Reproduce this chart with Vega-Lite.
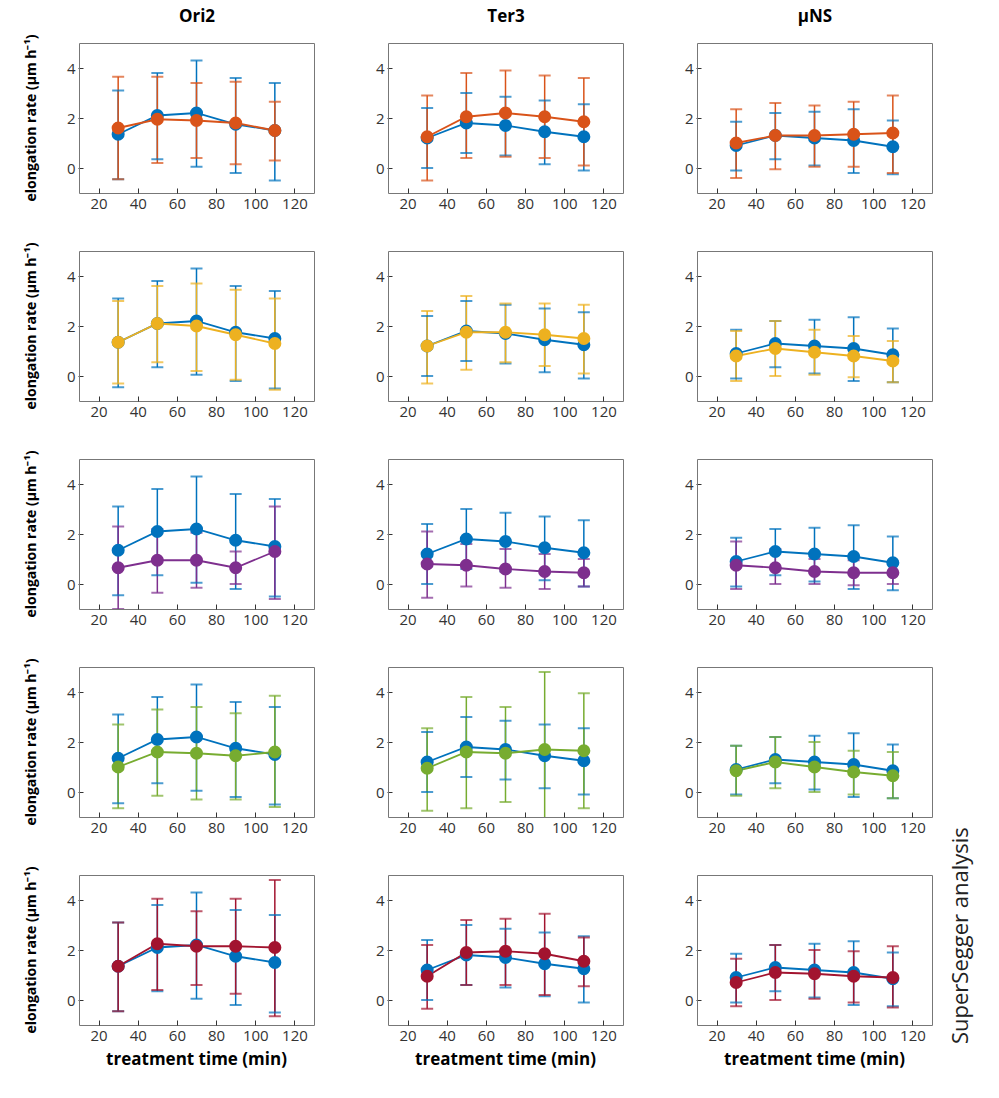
{
"$schema":"https://vega.github.io/schema/vega-lite/v6.json",
"background":"white",
"padding":{"left":25,"top":8,"right":2,"bottom":5},
"config":{"font":"Open Sans","view":{"stroke":"#777","strokeWidth":1},
"axis":{"grid":false,"domain":false,"ticks":true,"tickColor":"#333","tickSize":-5,"labelFontSize":15,"labelColor":"#333","labelFont":"Open Sans","labelPadding":8}},
"datasets":{"d":[
{"r":1,"c":"Ori2","s":"control","x":30,"y":1.35,"lo":-0.45,"hi":3.1},
{"r":1,"c":"Ori2","s":"control","x":50,"y":2.1,"lo":0.35,"hi":3.8},
{"r":1,"c":"Ori2","s":"control","x":70,"y":2.2,"lo":0.05,"hi":4.3},
{"r":1,"c":"Ori2","s":"control","x":90,"y":1.75,"lo":-0.2,"hi":3.6},
{"r":1,"c":"Ori2","s":"control","x":110,"y":1.5,"lo":-0.5,"hi":3.4},
{"r":2,"c":"Ori2","s":"control","x":30,"y":1.35,"lo":-0.45,"hi":3.1},
{"r":2,"c":"Ori2","s":"control","x":50,"y":2.1,"lo":0.35,"hi":3.8},
{"r":2,"c":"Ori2","s":"control","x":70,"y":2.2,"lo":0.05,"hi":4.3},
{"r":2,"c":"Ori2","s":"control","x":90,"y":1.75,"lo":-0.2,"hi":3.6},
{"r":2,"c":"Ori2","s":"control","x":110,"y":1.5,"lo":-0.5,"hi":3.4},
{"r":3,"c":"Ori2","s":"control","x":30,"y":1.35,"lo":-0.45,"hi":3.1},
{"r":3,"c":"Ori2","s":"control","x":50,"y":2.1,"lo":0.35,"hi":3.8},
{"r":3,"c":"Ori2","s":"control","x":70,"y":2.2,"lo":0.05,"hi":4.3},
{"r":3,"c":"Ori2","s":"control","x":90,"y":1.75,"lo":-0.2,"hi":3.6},
{"r":3,"c":"Ori2","s":"control","x":110,"y":1.5,"lo":-0.5,"hi":3.4},
{"r":4,"c":"Ori2","s":"control","x":30,"y":1.35,"lo":-0.45,"hi":3.1},
{"r":4,"c":"Ori2","s":"control","x":50,"y":2.1,"lo":0.35,"hi":3.8},
{"r":4,"c":"Ori2","s":"control","x":70,"y":2.2,"lo":0.05,"hi":4.3},
{"r":4,"c":"Ori2","s":"control","x":90,"y":1.75,"lo":-0.2,"hi":3.6},
{"r":4,"c":"Ori2","s":"control","x":110,"y":1.5,"lo":-0.5,"hi":3.4},
{"r":5,"c":"Ori2","s":"control","x":30,"y":1.35,"lo":-0.45,"hi":3.1},
{"r":5,"c":"Ori2","s":"control","x":50,"y":2.1,"lo":0.35,"hi":3.8},
{"r":5,"c":"Ori2","s":"control","x":70,"y":2.2,"lo":0.05,"hi":4.3},
{"r":5,"c":"Ori2","s":"control","x":90,"y":1.75,"lo":-0.2,"hi":3.6},
{"r":5,"c":"Ori2","s":"control","x":110,"y":1.5,"lo":-0.5,"hi":3.4},
{"r":1,"c":"Ter3","s":"control","x":30,"y":1.2,"lo":0.0,"hi":2.4},
{"r":1,"c":"Ter3","s":"control","x":50,"y":1.8,"lo":0.6,"hi":3.0},
{"r":1,"c":"Ter3","s":"control","x":70,"y":1.7,"lo":0.5,"hi":2.85},
{"r":1,"c":"Ter3","s":"control","x":90,"y":1.45,"lo":0.15,"hi":2.7},
{"r":1,"c":"Ter3","s":"control","x":110,"y":1.25,"lo":-0.1,"hi":2.55},
{"r":2,"c":"Ter3","s":"control","x":30,"y":1.2,"lo":0.0,"hi":2.4},
{"r":2,"c":"Ter3","s":"control","x":50,"y":1.8,"lo":0.6,"hi":3.0},
{"r":2,"c":"Ter3","s":"control","x":70,"y":1.7,"lo":0.5,"hi":2.85},
{"r":2,"c":"Ter3","s":"control","x":90,"y":1.45,"lo":0.15,"hi":2.7},
{"r":2,"c":"Ter3","s":"control","x":110,"y":1.25,"lo":-0.1,"hi":2.55},
{"r":3,"c":"Ter3","s":"control","x":30,"y":1.2,"lo":0.0,"hi":2.4},
{"r":3,"c":"Ter3","s":"control","x":50,"y":1.8,"lo":0.6,"hi":3.0},
{"r":3,"c":"Ter3","s":"control","x":70,"y":1.7,"lo":0.5,"hi":2.85},
{"r":3,"c":"Ter3","s":"control","x":90,"y":1.45,"lo":0.15,"hi":2.7},
{"r":3,"c":"Ter3","s":"control","x":110,"y":1.25,"lo":-0.1,"hi":2.55},
{"r":4,"c":"Ter3","s":"control","x":30,"y":1.2,"lo":0.0,"hi":2.4},
{"r":4,"c":"Ter3","s":"control","x":50,"y":1.8,"lo":0.6,"hi":3.0},
{"r":4,"c":"Ter3","s":"control","x":70,"y":1.7,"lo":0.5,"hi":2.85},
{"r":4,"c":"Ter3","s":"control","x":90,"y":1.45,"lo":0.15,"hi":2.7},
{"r":4,"c":"Ter3","s":"control","x":110,"y":1.25,"lo":-0.1,"hi":2.55},
{"r":5,"c":"Ter3","s":"control","x":30,"y":1.2,"lo":0.0,"hi":2.4},
{"r":5,"c":"Ter3","s":"control","x":50,"y":1.8,"lo":0.6,"hi":3.0},
{"r":5,"c":"Ter3","s":"control","x":70,"y":1.7,"lo":0.5,"hi":2.85},
{"r":5,"c":"Ter3","s":"control","x":90,"y":1.45,"lo":0.15,"hi":2.7},
{"r":5,"c":"Ter3","s":"control","x":110,"y":1.25,"lo":-0.1,"hi":2.55},
{"r":1,"c":"μNS","s":"control","x":30,"y":0.9,"lo":-0.1,"hi":1.85},
{"r":1,"c":"μNS","s":"control","x":50,"y":1.3,"lo":0.35,"hi":2.2},
{"r":1,"c":"μNS","s":"control","x":70,"y":1.2,"lo":0.1,"hi":2.25},
{"r":1,"c":"μNS","s":"control","x":90,"y":1.1,"lo":-0.2,"hi":2.35},
{"r":1,"c":"μNS","s":"control","x":110,"y":0.85,"lo":-0.25,"hi":1.9},
{"r":2,"c":"μNS","s":"control","x":30,"y":0.9,"lo":-0.1,"hi":1.85},
{"r":2,"c":"μNS","s":"control","x":50,"y":1.3,"lo":0.35,"hi":2.2},
{"r":2,"c":"μNS","s":"control","x":70,"y":1.2,"lo":0.1,"hi":2.25},
{"r":2,"c":"μNS","s":"control","x":90,"y":1.1,"lo":-0.2,"hi":2.35},
{"r":2,"c":"μNS","s":"control","x":110,"y":0.85,"lo":-0.25,"hi":1.9},
{"r":3,"c":"μNS","s":"control","x":30,"y":0.9,"lo":-0.1,"hi":1.85},
{"r":3,"c":"μNS","s":"control","x":50,"y":1.3,"lo":0.35,"hi":2.2},
{"r":3,"c":"μNS","s":"control","x":70,"y":1.2,"lo":0.1,"hi":2.25},
{"r":3,"c":"μNS","s":"control","x":90,"y":1.1,"lo":-0.2,"hi":2.35},
{"r":3,"c":"μNS","s":"control","x":110,"y":0.85,"lo":-0.25,"hi":1.9},
{"r":4,"c":"μNS","s":"control","x":30,"y":0.9,"lo":-0.1,"hi":1.85},
{"r":4,"c":"μNS","s":"control","x":50,"y":1.3,"lo":0.35,"hi":2.2},
{"r":4,"c":"μNS","s":"control","x":70,"y":1.2,"lo":0.1,"hi":2.25},
{"r":4,"c":"μNS","s":"control","x":90,"y":1.1,"lo":-0.2,"hi":2.35},
{"r":4,"c":"μNS","s":"control","x":110,"y":0.85,"lo":-0.25,"hi":1.9},
{"r":5,"c":"μNS","s":"control","x":30,"y":0.9,"lo":-0.1,"hi":1.85},
{"r":5,"c":"μNS","s":"control","x":50,"y":1.3,"lo":0.35,"hi":2.2},
{"r":5,"c":"μNS","s":"control","x":70,"y":1.2,"lo":0.1,"hi":2.25},
{"r":5,"c":"μNS","s":"control","x":90,"y":1.1,"lo":-0.2,"hi":2.35},
{"r":5,"c":"μNS","s":"control","x":110,"y":0.85,"lo":-0.25,"hi":1.9},
{"r":1,"c":"Ori2","s":"c1","x":30,"y":1.6,"lo":-0.45,"hi":3.65},
{"r":1,"c":"Ori2","s":"c1","x":50,"y":1.95,"lo":0.2,"hi":3.65},
{"r":1,"c":"Ori2","s":"c1","x":70,"y":1.9,"lo":0.4,"hi":3.4},
{"r":1,"c":"Ori2","s":"c1","x":90,"y":1.8,"lo":0.15,"hi":3.45},
{"r":1,"c":"Ori2","s":"c1","x":110,"y":1.5,"lo":0.3,"hi":2.65},
{"r":1,"c":"Ter3","s":"c1","x":30,"y":1.25,"lo":-0.5,"hi":2.9},
{"r":1,"c":"Ter3","s":"c1","x":50,"y":2.05,"lo":0.4,"hi":3.8},
{"r":1,"c":"Ter3","s":"c1","x":70,"y":2.2,"lo":0.45,"hi":3.9},
{"r":1,"c":"Ter3","s":"c1","x":90,"y":2.05,"lo":0.4,"hi":3.7},
{"r":1,"c":"Ter3","s":"c1","x":110,"y":1.85,"lo":0.1,"hi":3.6},
{"r":1,"c":"μNS","s":"c1","x":30,"y":1.0,"lo":-0.4,"hi":2.35},
{"r":1,"c":"μNS","s":"c1","x":50,"y":1.3,"lo":-0.05,"hi":2.6},
{"r":1,"c":"μNS","s":"c1","x":70,"y":1.3,"lo":0.05,"hi":2.5},
{"r":1,"c":"μNS","s":"c1","x":90,"y":1.35,"lo":0.05,"hi":2.65},
{"r":1,"c":"μNS","s":"c1","x":110,"y":1.4,"lo":-0.2,"hi":2.9},
{"r":2,"c":"Ori2","s":"c2","x":30,"y":1.35,"lo":-0.3,"hi":3.0},
{"r":2,"c":"Ori2","s":"c2","x":50,"y":2.1,"lo":0.55,"hi":3.6},
{"r":2,"c":"Ori2","s":"c2","x":70,"y":2.0,"lo":0.2,"hi":3.7},
{"r":2,"c":"Ori2","s":"c2","x":90,"y":1.65,"lo":-0.15,"hi":3.45},
{"r":2,"c":"Ori2","s":"c2","x":110,"y":1.3,"lo":-0.55,"hi":3.1},
{"r":2,"c":"Ter3","s":"c2","x":30,"y":1.2,"lo":-0.3,"hi":2.6},
{"r":2,"c":"Ter3","s":"c2","x":50,"y":1.75,"lo":0.25,"hi":3.2},
{"r":2,"c":"Ter3","s":"c2","x":70,"y":1.75,"lo":0.55,"hi":2.9},
{"r":2,"c":"Ter3","s":"c2","x":90,"y":1.65,"lo":0.4,"hi":2.9},
{"r":2,"c":"Ter3","s":"c2","x":110,"y":1.5,"lo":0.1,"hi":2.85},
{"r":2,"c":"μNS","s":"c2","x":30,"y":0.8,"lo":-0.2,"hi":1.8},
{"r":2,"c":"μNS","s":"c2","x":50,"y":1.1,"lo":0.0,"hi":2.2},
{"r":2,"c":"μNS","s":"c2","x":70,"y":0.95,"lo":0.05,"hi":1.85},
{"r":2,"c":"μNS","s":"c2","x":90,"y":0.8,"lo":-0.05,"hi":1.6},
{"r":2,"c":"μNS","s":"c2","x":110,"y":0.6,"lo":-0.25,"hi":1.4},
{"r":3,"c":"Ori2","s":"c3","x":30,"y":0.65,"lo":-1.0,"hi":2.3},
{"r":3,"c":"Ori2","s":"c3","x":50,"y":0.95,"lo":-0.35,"hi":2.2},
{"r":3,"c":"Ori2","s":"c3","x":70,"y":0.95,"lo":-0.15,"hi":2.05},
{"r":3,"c":"Ori2","s":"c3","x":90,"y":0.65,"lo":0.0,"hi":1.3},
{"r":3,"c":"Ori2","s":"c3","x":110,"y":1.3,"lo":-0.6,"hi":3.1},
{"r":3,"c":"Ter3","s":"c3","x":30,"y":0.8,"lo":-0.55,"hi":2.1},
{"r":3,"c":"Ter3","s":"c3","x":50,"y":0.75,"lo":-0.1,"hi":1.6},
{"r":3,"c":"Ter3","s":"c3","x":70,"y":0.6,"lo":-0.15,"hi":1.4},
{"r":3,"c":"Ter3","s":"c3","x":90,"y":0.5,"lo":-0.2,"hi":1.2},
{"r":3,"c":"Ter3","s":"c3","x":110,"y":0.45,"lo":-0.1,"hi":1.0},
{"r":3,"c":"μNS","s":"c3","x":30,"y":0.75,"lo":-0.2,"hi":1.7},
{"r":3,"c":"μNS","s":"c3","x":50,"y":0.65,"lo":0.0,"hi":1.4},
{"r":3,"c":"μNS","s":"c3","x":70,"y":0.5,"lo":0.0,"hi":1.0},
{"r":3,"c":"μNS","s":"c3","x":90,"y":0.45,"lo":-0.05,"hi":0.95},
{"r":3,"c":"μNS","s":"c3","x":110,"y":0.45,"lo":0.0,"hi":0.9},
{"r":4,"c":"Ori2","s":"c4","x":30,"y":1.0,"lo":-0.65,"hi":2.7},
{"r":4,"c":"Ori2","s":"c4","x":50,"y":1.6,"lo":-0.15,"hi":3.3},
{"r":4,"c":"Ori2","s":"c4","x":70,"y":1.55,"lo":-0.3,"hi":3.4},
{"r":4,"c":"Ori2","s":"c4","x":90,"y":1.45,"lo":-0.3,"hi":3.15},
{"r":4,"c":"Ori2","s":"c4","x":110,"y":1.6,"lo":-0.6,"hi":3.85},
{"r":4,"c":"Ter3","s":"c4","x":30,"y":0.95,"lo":-0.75,"hi":2.55},
{"r":4,"c":"Ter3","s":"c4","x":50,"y":1.6,"lo":-0.65,"hi":3.8},
{"r":4,"c":"Ter3","s":"c4","x":70,"y":1.55,"lo":-0.4,"hi":3.4},
{"r":4,"c":"Ter3","s":"c4","x":90,"y":1.7,"lo":-1.4,"hi":4.8},
{"r":4,"c":"Ter3","s":"c4","x":110,"y":1.65,"lo":-0.65,"hi":3.95},
{"r":4,"c":"μNS","s":"c4","x":30,"y":0.85,"lo":-0.15,"hi":1.85},
{"r":4,"c":"μNS","s":"c4","x":50,"y":1.2,"lo":0.15,"hi":2.2},
{"r":4,"c":"μNS","s":"c4","x":70,"y":1.0,"lo":0.0,"hi":2.0},
{"r":4,"c":"μNS","s":"c4","x":90,"y":0.8,"lo":-0.1,"hi":1.65},
{"r":4,"c":"μNS","s":"c4","x":110,"y":0.65,"lo":-0.25,"hi":1.6},
{"r":5,"c":"Ori2","s":"c5","x":30,"y":1.35,"lo":-0.45,"hi":3.1},
{"r":5,"c":"Ori2","s":"c5","x":50,"y":2.25,"lo":0.4,"hi":4.05},
{"r":5,"c":"Ori2","s":"c5","x":70,"y":2.15,"lo":0.6,"hi":3.55},
{"r":5,"c":"Ori2","s":"c5","x":90,"y":2.15,"lo":0.25,"hi":4.05},
{"r":5,"c":"Ori2","s":"c5","x":110,"y":2.1,"lo":-0.65,"hi":4.8},
{"r":5,"c":"Ter3","s":"c5","x":30,"y":0.95,"lo":-0.35,"hi":2.2},
{"r":5,"c":"Ter3","s":"c5","x":50,"y":1.9,"lo":0.6,"hi":3.2},
{"r":5,"c":"Ter3","s":"c5","x":70,"y":1.95,"lo":0.6,"hi":3.25},
{"r":5,"c":"Ter3","s":"c5","x":90,"y":1.85,"lo":0.2,"hi":3.45},
{"r":5,"c":"Ter3","s":"c5","x":110,"y":1.55,"lo":0.55,"hi":2.5},
{"r":5,"c":"μNS","s":"c5","x":30,"y":0.7,"lo":-0.25,"hi":1.65},
{"r":5,"c":"μNS","s":"c5","x":50,"y":1.1,"lo":0.0,"hi":2.2},
{"r":5,"c":"μNS","s":"c5","x":70,"y":1.05,"lo":0.05,"hi":2.0},
{"r":5,"c":"μNS","s":"c5","x":90,"y":0.95,"lo":-0.1,"hi":1.95},
{"r":5,"c":"μNS","s":"c5","x":110,"y":0.9,"lo":-0.3,"hi":2.15}
]},
"spacing":60,
"hconcat":[
{"data":{"name":"d"},"transform":[{"filter":"datum.c==='Ori2'"}],
"facet":{"row":{"field":"r","type":"ordinal","header":{"title":null,"labelExpr":"'elongation rate (μm h⁻¹)'","labelAngle":-90,"labelOrient":"left","labelFontWeight":"bold","labelFontSize":14,"labelFont":"Open Sans","labelPadding":20}},
"column":{"field":"c","type":"nominal","header":{"title":"Ori2","titleOrient":"top","titleFontSize":17,"titleFontWeight":"bold","titleFont":"Open Sans","titlePadding":6,"labelOrient":"bottom","labelExpr":"'treatment time (min)'","labelFontSize":17,"labelFontWeight":"bold","labelFont":"Open Sans","labelPadding":8}}},
"spacing":{"row":38},
"resolve":{"axis":{"x":"independent"}},
"spec":{"width":235,"height":150,"layer":[
{"mark":{"type":"rule","strokeWidth":1.5,"clip":true},"encoding":{"x":{"field":"x","type":"quantitative","scale":{"domain":[10,130],"nice":false},"axis":{"values":[20,40,60,80,100,120],"title":null}},"y":{"field":"lo","type":"quantitative","scale":{"domain":[-1,5],"nice":false},"axis":{"values":[0,2,4],"title":null}},"y2":{"field":"hi"},"color":{"field":"s","type":"nominal","legend":null,"scale":{"domain":["control","c1","c2","c3","c4","c5"],"range":["#0072BD","#D95319","#EDB120","#7E2F8E","#77AC30","#A2142F"]}}}},
{"mark":{"type":"tick","orient":"horizontal","size":12,"thickness":2,"clip":true},"encoding":{"x":{"field":"x","type":"quantitative"},"y":{"field":"lo","type":"quantitative"},"color":{"field":"s","type":"nominal","legend":null}}},
{"mark":{"type":"tick","orient":"horizontal","size":12,"thickness":2,"clip":true},"encoding":{"x":{"field":"x","type":"quantitative"},"y":{"field":"hi","type":"quantitative"},"color":{"field":"s","type":"nominal","legend":null}}},
{"mark":{"type":"line","strokeWidth":1.8},"encoding":{"x":{"field":"x","type":"quantitative"},"y":{"field":"y","type":"quantitative"},"color":{"field":"s","type":"nominal","legend":null}}},
{"mark":{"type":"circle","size":170,"opacity":1},"encoding":{"x":{"field":"x","type":"quantitative"},"y":{"field":"y","type":"quantitative"},"color":{"field":"s","type":"nominal","legend":null}}}
]}},
{"data":{"name":"d"},"transform":[{"filter":"datum.c==='Ter3'"}],
"facet":{"row":{"field":"r","type":"ordinal","header":{"title":null,"labels":false}},
"column":{"field":"c","type":"nominal","header":{"title":"Ter3","titleOrient":"top","titleFontSize":17,"titleFontWeight":"bold","titleFont":"Open Sans","titlePadding":6,"labelOrient":"bottom","labelExpr":"'treatment time (min)'","labelFontSize":17,"labelFontWeight":"bold","labelFont":"Open Sans","labelPadding":8}}},
"spacing":{"row":38},
"resolve":{"axis":{"x":"independent"}},
"spec":{"width":235,"height":150,"layer":[
{"mark":{"type":"rule","strokeWidth":1.5,"clip":true},"encoding":{"x":{"field":"x","type":"quantitative","scale":{"domain":[10,130],"nice":false},"axis":{"values":[20,40,60,80,100,120],"title":null}},"y":{"field":"lo","type":"quantitative","scale":{"domain":[-1,5],"nice":false},"axis":{"values":[0,2,4],"title":null}},"y2":{"field":"hi"},"color":{"field":"s","type":"nominal","legend":null,"scale":{"domain":["control","c1","c2","c3","c4","c5"],"range":["#0072BD","#D95319","#EDB120","#7E2F8E","#77AC30","#A2142F"]}}}},
{"mark":{"type":"tick","orient":"horizontal","size":12,"thickness":2,"clip":true},"encoding":{"x":{"field":"x","type":"quantitative"},"y":{"field":"lo","type":"quantitative"},"color":{"field":"s","type":"nominal","legend":null}}},
{"mark":{"type":"tick","orient":"horizontal","size":12,"thickness":2,"clip":true},"encoding":{"x":{"field":"x","type":"quantitative"},"y":{"field":"hi","type":"quantitative"},"color":{"field":"s","type":"nominal","legend":null}}},
{"mark":{"type":"line","strokeWidth":1.8},"encoding":{"x":{"field":"x","type":"quantitative"},"y":{"field":"y","type":"quantitative"},"color":{"field":"s","type":"nominal","legend":null}}},
{"mark":{"type":"circle","size":170,"opacity":1},"encoding":{"x":{"field":"x","type":"quantitative"},"y":{"field":"y","type":"quantitative"},"color":{"field":"s","type":"nominal","legend":null}}}
]}},
{"data":{"name":"d"},"transform":[{"filter":"datum.c==='μNS'"}],
"facet":{"row":{"field":"r","type":"ordinal","header":{"title":"SuperSegger analysis","titleOrient":"right","titleAngle":-90,"titleAnchor":"start","titleFontSize":22,"titleFontWeight":"normal","titleFont":"Open Sans","titleColor":"#222","titlePadding":8,"labels":false}},
"column":{"field":"c","type":"nominal","header":{"title":"μNS","titleOrient":"top","titleFontSize":17,"titleFontWeight":"bold","titleFont":"Open Sans","titlePadding":6,"labelOrient":"bottom","labelExpr":"'treatment time (min)'","labelFontSize":17,"labelFontWeight":"bold","labelFont":"Open Sans","labelPadding":8}}},
"spacing":{"row":38},
"resolve":{"axis":{"x":"independent"}},
"spec":{"width":235,"height":150,"layer":[
{"mark":{"type":"rule","strokeWidth":1.5,"clip":true},"encoding":{"x":{"field":"x","type":"quantitative","scale":{"domain":[10,130],"nice":false},"axis":{"values":[20,40,60,80,100,120],"title":null}},"y":{"field":"lo","type":"quantitative","scale":{"domain":[-1,5],"nice":false},"axis":{"values":[0,2,4],"title":null}},"y2":{"field":"hi"},"color":{"field":"s","type":"nominal","legend":null,"scale":{"domain":["control","c1","c2","c3","c4","c5"],"range":["#0072BD","#D95319","#EDB120","#7E2F8E","#77AC30","#A2142F"]}}}},
{"mark":{"type":"tick","orient":"horizontal","size":12,"thickness":2,"clip":true},"encoding":{"x":{"field":"x","type":"quantitative"},"y":{"field":"lo","type":"quantitative"},"color":{"field":"s","type":"nominal","legend":null}}},
{"mark":{"type":"tick","orient":"horizontal","size":12,"thickness":2,"clip":true},"encoding":{"x":{"field":"x","type":"quantitative"},"y":{"field":"hi","type":"quantitative"},"color":{"field":"s","type":"nominal","legend":null}}},
{"mark":{"type":"line","strokeWidth":1.8},"encoding":{"x":{"field":"x","type":"quantitative"},"y":{"field":"y","type":"quantitative"},"color":{"field":"s","type":"nominal","legend":null}}},
{"mark":{"type":"circle","size":170,"opacity":1},"encoding":{"x":{"field":"x","type":"quantitative"},"y":{"field":"y","type":"quantitative"},"color":{"field":"s","type":"nominal","legend":null}}}
]}}
]}
